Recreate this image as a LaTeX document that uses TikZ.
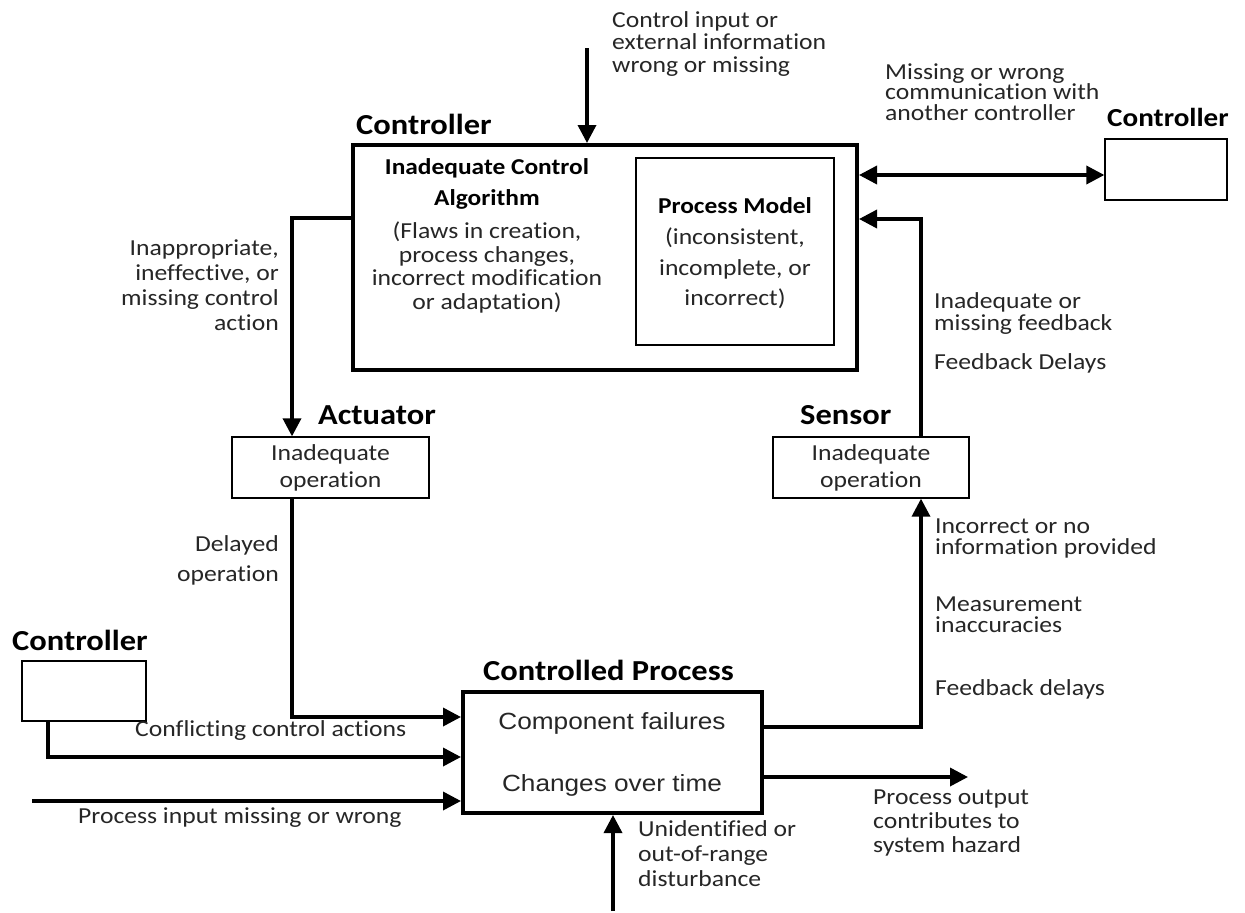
\documentclass[tikz,border=0pt]{standalone}
\usepackage{fontspec}
\setmainfont{Carlito}[FakeStretch=1.12, Ligatures=NoCommon]
\newfontfamily\arialfont{Liberation Sans}[FakeStretch=1.12]
\usetikzlibrary{arrows.meta}
\begin{document}
\begin{tikzpicture}[x=1pt,y=-1pt,
  txt/.style={font=\fontsize{22.9}{#1}\selectfont, text=black!85, inner sep=0pt},
  txt/.default=22.5,
  boldtxt/.style={font=\fontsize{22.7}{#1}\selectfont\bfseries, inner sep=0pt},
  boldtxt/.default=31,
  head/.style={font=\fontsize{29}{30}\selectfont\bfseries, inner sep=0pt},
  arialtxt/.style={font=\arialfont\fontsize{23.4}{24}\selectfont, text=black!85, inner sep=0pt},
  thickbox/.style={draw, line width=4pt, inner sep=0pt},
  thinbox/.style={draw, line width=1.3pt, inner sep=0pt},
  flow/.style={line width=3.5pt, -{Triangle[length=18pt,width=18pt]}},
  twoway/.style={line width=3.5pt, {Triangle[length=18pt,width=18pt]}-{Triangle[length=18pt,width=18pt]}},
]
% canvas
\fill[white] (0,0) rectangle (1245,911);

% ---------- main controller ----------
\node[head, anchor=west] (hmain) at (356,124) {Controller};
\node[thickbox, minimum width=504pt, minimum height=225pt] (main) at (605,257.5) {};
\node[boldtxt, align=center] (algo) at (487,183.5) {Inadequate Control\\Algorithm};
\node[txt=23.7, align=center] (flaws) at (487,267.5) {(Flaws in creation,\\process changes,\\incorrect modification\\or adaptation)};
\node[thinbox, minimum width=198pt, minimum height=187pt] (pm) at (735,251.5) {};
\node[boldtxt] (pmt) at (735,206) {Process Model};
\node[txt=30.5, align=center] (pmd) at (735,268.5) {(inconsistent,\\incomplete, or\\incorrect)};

\node[txt, align=left, anchor=west] (tin) at (612,44) {Control input or\\external information\\wrong or missing};
\coordinate (cin) at (587,48);

% ---------- peer controller (right) ----------
\node[txt=20.5, align=left, anchor=west] (tcomm) at (885,92) {Missing or wrong\\communication with\\another controller};
\node[head, font=\fontsize{26}{28}\selectfont\bfseries, anchor=west] (hrc) at (1107,117) {Controller};
\node[thinbox, minimum width=122pt, minimum height=61pt] (rc) at (1166,169.5) {};

% ---------- actuator ----------
\node[txt=25, align=right, anchor=east] (tact) at (279,285) {Inappropriate,\\ineffective, or\\missing control\\action};
\node[head, anchor=west] (hact) at (318,415) {Actuator};
\node[thinbox, txt=27, align=center, minimum width=197pt, minimum height=61pt] (act) at (330.5,467.5) {Inadequate\\operation};
\node[txt=30, align=right, anchor=east] (tdel) at (279,560) {Delayed\\operation};
\coordinate (acol) at (292,0);

% ---------- peer controller (left) ----------
\node[head, anchor=west] (hlc) at (12,640) {Controller};
\node[thinbox, minimum width=124pt, minimum height=60pt] (lc) at (84,691) {};
\coordinate (lcol) at (48,0);
\node[txt, anchor=west] (tconf) at (135,731) {Conflicting control actions};
\coordinate (pin) at (32,801);
\node[txt, anchor=west] (tpin) at (78,818) {Process input missing or wrong};

% ---------- controlled process ----------
\node[head, anchor=west] (hproc) at (483,670) {Controlled Process};
\node[thickbox, minimum width=299pt, minimum height=121pt] (proc) at (612.5,752.5) {};
\node[arialtxt] (cf) at (612,723) {Component failures};
\node[arialtxt] (ch) at (612,785) {Changes over time};
\coordinate (dist) at (613,911);
\node[txt=25, align=left, anchor=west] (tdist) at (638,854) {Unidentified or\\out-of-range\\disturbance};
\coordinate (pout) at (968,777);
\node[txt=24, align=left, anchor=west] (tout) at (873,823) {Process output\\contributes to\\system hazard};

% ---------- sensor ----------
\node[head, anchor=west] (hsen) at (800,415) {Sensor};
\node[thinbox, txt=27, align=center, minimum width=196pt, minimum height=61pt] (sen) at (871,467.5) {Inadequate\\operation};
\coordinate (scol) at (921,0);
\node[txt=22, align=left, anchor=west] (tinf) at (934,314) {Inadequate or\\missing feedback};
\node[txt, anchor=west] (tfD) at (934,363) {Feedback Delays};
\node[txt=21, align=left, anchor=west] (tinc) at (935,538) {Incorrect or no\\information provided};
\node[txt=21, align=left, anchor=west] (tmeas) at (935,615) {Measurement\\inaccuracies};
\node[txt, anchor=west] (tfd) at (935,689) {Feedback delays};

% ---------- connectors ----------
\draw[flow] (cin) -- (cin |- main.north);
\draw[twoway] (main.east |- 0,175) -- (rc.west |- 0,175);
\draw[flow] (main.west |- 0,218) -| (act.north -| acol);
\draw[flow] (act.south -| acol) |- (proc.west |- 0,717);
\draw[flow] (lc.south -| lcol) |- (proc.west |- 0,757);
\draw[flow] (pin) -- (proc.west |- pin);
\draw[flow] (dist) -- (proc.south -| dist);
\draw[flow] (proc.east |- pout) -- (pout);
\draw[flow] (proc.east |- 0,727) -| (sen.south -| scol);
\draw[flow] (sen.north -| scol) |- (main.east |- 0,219);
\end{tikzpicture}
\end{document}
